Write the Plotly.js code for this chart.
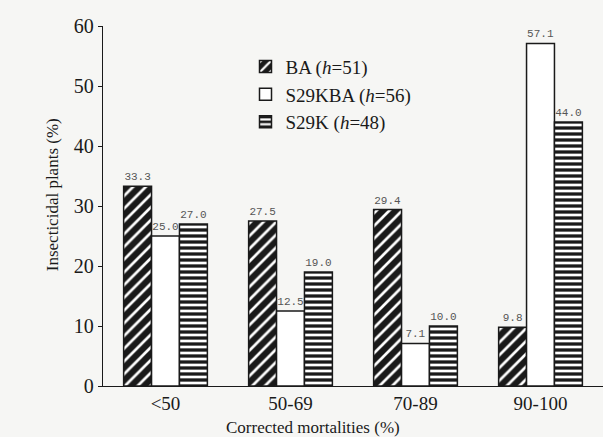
<!DOCTYPE html>
<html><head><meta charset="utf-8">
<script src="https://cdn.plot.ly/plotly-3.0.1.min.js"></script>
<style>body{margin:0;padding:0;background:#f6f6f4}</style>
</head><body>
<div id="chart" style="width:603px;height:437px"></div>
<script>
const categories = ['<50', '50-69', '70-89', '90-100'];
const seriesNames = ['BA (<i>h</i>=51)', 'S29KBA (<i>h</i>=56)', 'S29K (<i>h</i>=48)'];
const baValues = [33.3, 27.5, 29.4, 9.8];
const s29kbaValues = [25.0, 12.5, 7.1, 57.1];
const s29kValues = [27.0, 19.0, 10.0, 44.0];
const yTicks = [0, 10, 20, 30, 40, 50, 60];

const labelFont = {family: 'Liberation Mono', size: 11, color: '#555'};
function fmt(v){ return v.toFixed(1); }
const serif = 'Liberation Serif';

const traces = [
  {type:'bar', name: seriesNames[0], x: categories, y: baValues,
   text: baValues.map(fmt), textposition:'outside', textfont: labelFont, cliponaxis:false,
   marker:{color:'#1a1a1a', line:{color:'#1a1a1a', width:1.5},
     pattern:{shape:'/', fgcolor:'#ffffff', bgcolor:'#1a1a1a', size:9, solidity:0.3, fillmode:'replace'}}},
  {type:'bar', name: seriesNames[1], x: categories, y: s29kbaValues,
   text: s29kbaValues.map(fmt), textposition:'outside', textfont: labelFont, cliponaxis:false,
   marker:{color:'#ffffff', line:{color:'#1a1a1a', width:1.5}}},
  {type:'bar', name: seriesNames[2], x: categories, y: s29kValues,
   text: s29kValues.map(fmt), textposition:'outside', textfont: labelFont, cliponaxis:false,
   marker:{color:'#1a1a1a', line:{color:'#1a1a1a', width:1.5},
     pattern:{shape:'-', fgcolor:'#ffffff', bgcolor:'#1a1a1a', size:6, solidity:0.45, fillmode:'replace'}}}
];

const layout = {
  width:603, height:437,
  margin:{l:103, r:0, t:26, b:51},
  paper_bgcolor:'#f6f6f4', plot_bgcolor:'#f6f6f4',
  barmode:'group', bargap:0.33, bargroupgap:0,
  font:{family:serif, color:'#1a1a1a'},
  showlegend:true,
  legend:{x:0.285, y:0.94, xanchor:'left', yanchor:'top', bgcolor:'rgba(0,0,0,0)',
    font:{family:serif, size:19, color:'#1a1a1a'}, itemwidth:30, tracegroupgap:0},
  xaxis:{showline:true, linecolor:'#1a1a1a', linewidth:1.2, ticks:'', showgrid:false,
    tickfont:{size:19, family:serif}, zeroline:false},
  yaxis:{range:[0,60], tickvals:yTicks, showline:true, linecolor:'#1a1a1a', linewidth:1.2,
    ticks:'outside', ticklen:4, tickcolor:'#1a1a1a', showgrid:false, zeroline:false,
    tickfont:{size:20, family:serif}},
  annotations:[
    {text:'Corrected mortalities (%)', xref:'paper', yref:'paper', x:0.42, y:0, yshift:-41,
     xanchor:'center', yanchor:'middle', showarrow:false, font:{size:17, family:serif}},
    {text:'Insecticidal plants (%)', xref:'paper', yref:'paper', x:0, xshift:-51, y:0.53,
     xanchor:'center', yanchor:'middle', textangle:-90, showarrow:false, font:{size:17, family:serif}}
  ]
};
Plotly.newPlot('chart', traces, layout, {displayModeBar:false, staticPlot:true});
</script>
</body></html>
